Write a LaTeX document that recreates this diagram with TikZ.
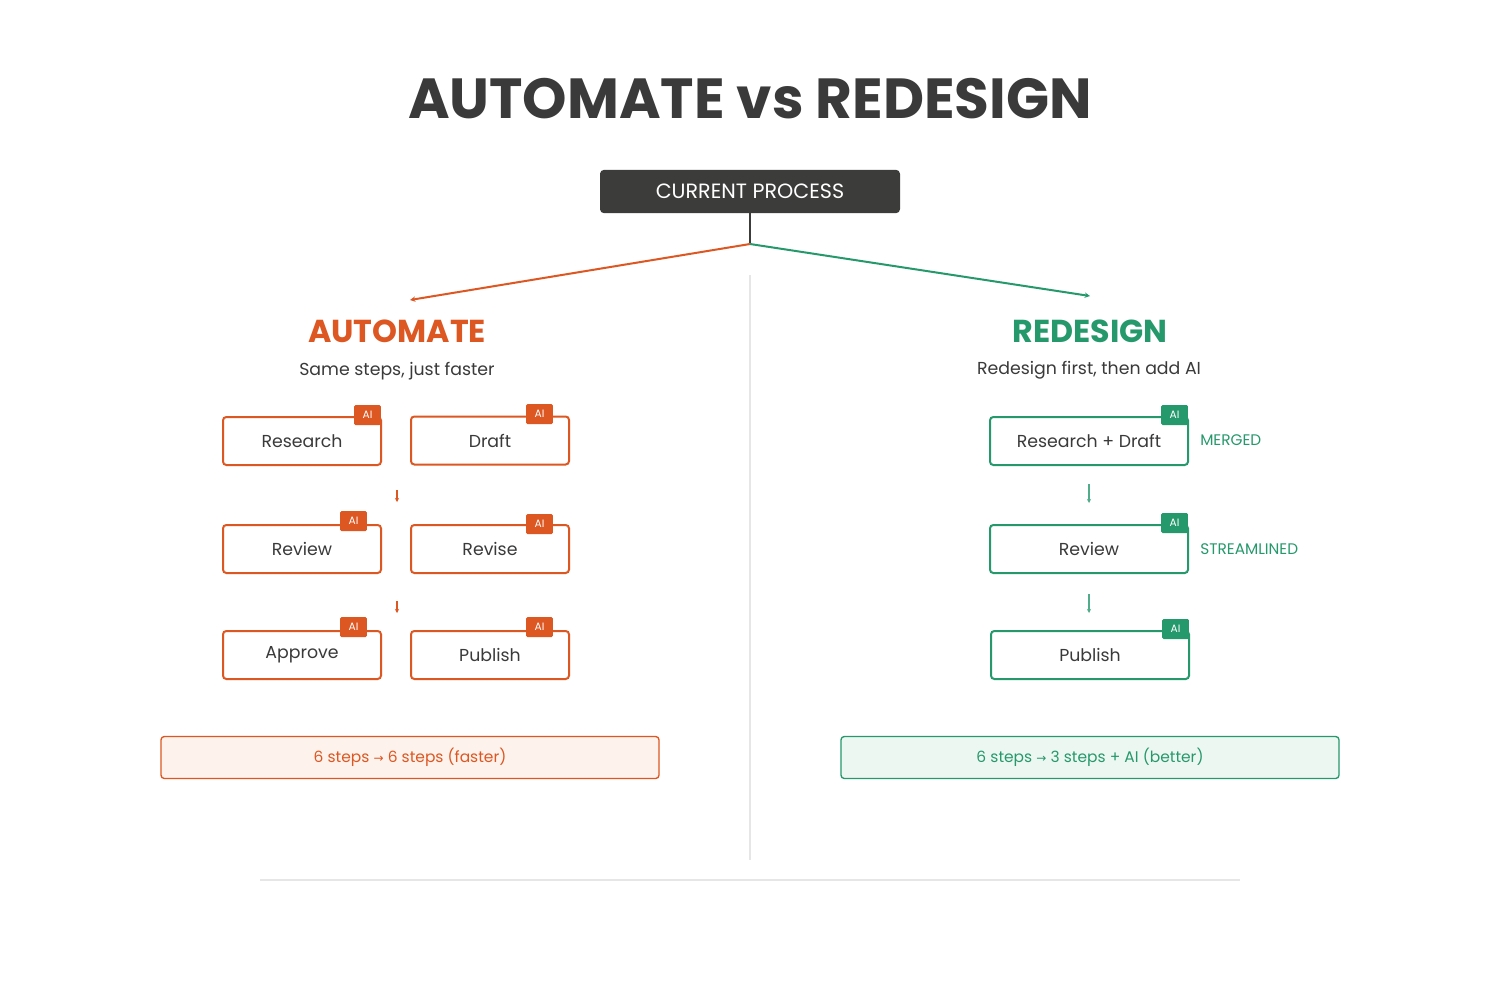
\documentclass[tikz,border=0pt]{standalone}
\usepackage{fontspec}
\setmainfont{Poppins}
\newfontfamily\symfont{DejaVu Sans}
\usetikzlibrary{arrows.meta}
\definecolor{org}{HTML}{DD5722}
\definecolor{grn}{HTML}{26996C}
\definecolor{dark}{HTML}{3C3C3A}
\definecolor{txt}{HTML}{3A3A3A}
\definecolor{orgbg}{HTML}{FDF2EC}
\definecolor{grnbg}{HTML}{EDF7F2}
\definecolor{divc}{HTML}{E6E6E6}
\tikzset{
  obox/.style={draw=org, line width=1.5pt, rounded corners=2.5pt, fill=white, minimum width=118.5pt, minimum height=36pt, inner sep=0pt, text=txt, font=\fontsize{13}{16}\selectfont},
  gbox/.style={obox, draw=grn, minimum width=148.5pt},
  obadge/.style={fill=org, rounded corners=1pt, minimum width=20pt, minimum height=15pt, inner sep=0pt, text=white, font=\fontsize{8}{9}\selectfont},
  gbadge/.style={obadge, fill=grn},
  sarr/.style={-{Stealth[length=3pt,width=3pt]}, line width=0.8pt},
  tag/.style={anchor=west, inner sep=0pt, text=grn, font=\fontsize{11.5}{13}\selectfont},
}
\begin{document}
\begin{tikzpicture}[x=0.75pt,y=-0.75pt]
\useasboundingbox (0,0) rectangle (1500,1000);
\fill[white] (0,0) rectangle (1500,1000);
% title
\node[text=txt, font=\fontsize{42.4}{48}\selectfont\bfseries] (title) at (750,99) {AUTOMATE vs REDESIGN};
% current process
\node[fill=dark, rounded corners=3pt, minimum width=225pt, minimum height=32.5pt, inner sep=0pt, text=white, font=\fontsize{15.5}{18}\selectfont] (cur) at (750,191.5) {CURRENT PROCESS};
\coordinate (split) at (750,244);
\coordinate (la) at (410,300);
\coordinate (ra) at (1090,296);
\draw[dark, line width=1.5pt] (cur.south) -- (split);
\draw[org, line width=1.5pt, -{Stealth[length=4pt,width=4pt]}] (split) -- (la);
\draw[grn, line width=1.5pt, -{Stealth[length=4pt,width=4pt]}] (split) -- (ra);
% dividers
\coordinate (d1) at (750,275); \coordinate (d2) at (750,860);
\draw[divc, line width=1.2pt] (d1) -- (d2);
\coordinate (h1) at (260,880); \coordinate (h2) at (1240,880);
\draw[divc, line width=1.2pt] (h1) -- (h2);
% headings
\node[text=org, font=\fontsize{23.8}{27}\selectfont\bfseries] (ah) at (397,331) {AUTOMATE};
\node[text=grn, font=\fontsize{23.8}{27}\selectfont\bfseries] (rh) at (1090,331) {REDESIGN};
\node[text=txt, font=\fontsize{13}{15}\selectfont] (as) at (397,371) {Same steps, just faster};
\node[text=txt, font=\fontsize{13}{15}\selectfont] (rs) at (1089,370) {Redesign first, then add AI};
% left boxes
\node[obox] (r1) at (302,441) {Research};
\node[obox] (d1b) at (490,440.5) {Draft};
\node[obox] (rv) at (302,549) {Review};
\node[obox] (rs2) at (490,549) {Revise};
\node[obox] (ap) at (302,655) {Approve};
\node[obox] (pb) at (490,655) {Publish};
\node[obadge] at (367.5,415) {AI};
\node[obadge] at (539.5,414) {AI};
\node[obadge] at (353.5,521) {AI};
\node[obadge] at (539.5,524) {AI};
\node[obadge] at (353.5,627) {AI};
\node[obadge] at (539.5,627) {AI};
\coordinate (oa1) at (397,490); \coordinate (oa2) at (397,502);
\coordinate (ob1) at (397,601); \coordinate (ob2) at (397,613);
\draw[org, sarr] (oa1) -- (oa2);
\draw[org, sarr] (ob1) -- (ob2);
% right boxes
\node[gbox] (rd) at (1089,441) {Research + Draft};
\node[gbox] (rr) at (1089,549) {Review};
\node[gbox] (rp) at (1090,655) {Publish};
\node[gbadge] at (1174.5,415) {AI};
\node[gbadge] at (1174.5,523) {AI};
\node[gbadge] at (1175.5,629) {AI};
\node[tag] (m) at (1200,440) {MERGED};
\node[tag] (s) at (1200,549) {STREAMLINED};
\draw[grn!80, sarr] (rd.south) ++(0,18) coordinate (ga1) -- ++(0,19) coordinate (ga2);
\draw[grn!80, sarr] (rr.south) ++(0,20) coordinate (gb1) -- ++(0,19) coordinate (gb2);
% bottom summary
\node[draw=org, fill=orgbg, line width=1pt, rounded corners=2.5pt, minimum width=373.5pt, minimum height=31.5pt, inner sep=0pt, text=org, font=\fontsize{11.6}{14}\selectfont] (ls) at (410,757.5) {6 steps {\symfont\fontsize{9}{10}\selectfont→} 6 steps (faster)};
\node[draw=grn, fill=grnbg, line width=1pt, rounded corners=2.5pt, minimum width=373.5pt, minimum height=31.5pt, inner sep=0pt, text=grn, font=\fontsize{11.6}{14}\selectfont] (rsum) at (1090,757.5) {6 steps {\symfont\fontsize{9}{10}\selectfont→} 3 steps + AI (better)};
\end{tikzpicture}
\end{document}
